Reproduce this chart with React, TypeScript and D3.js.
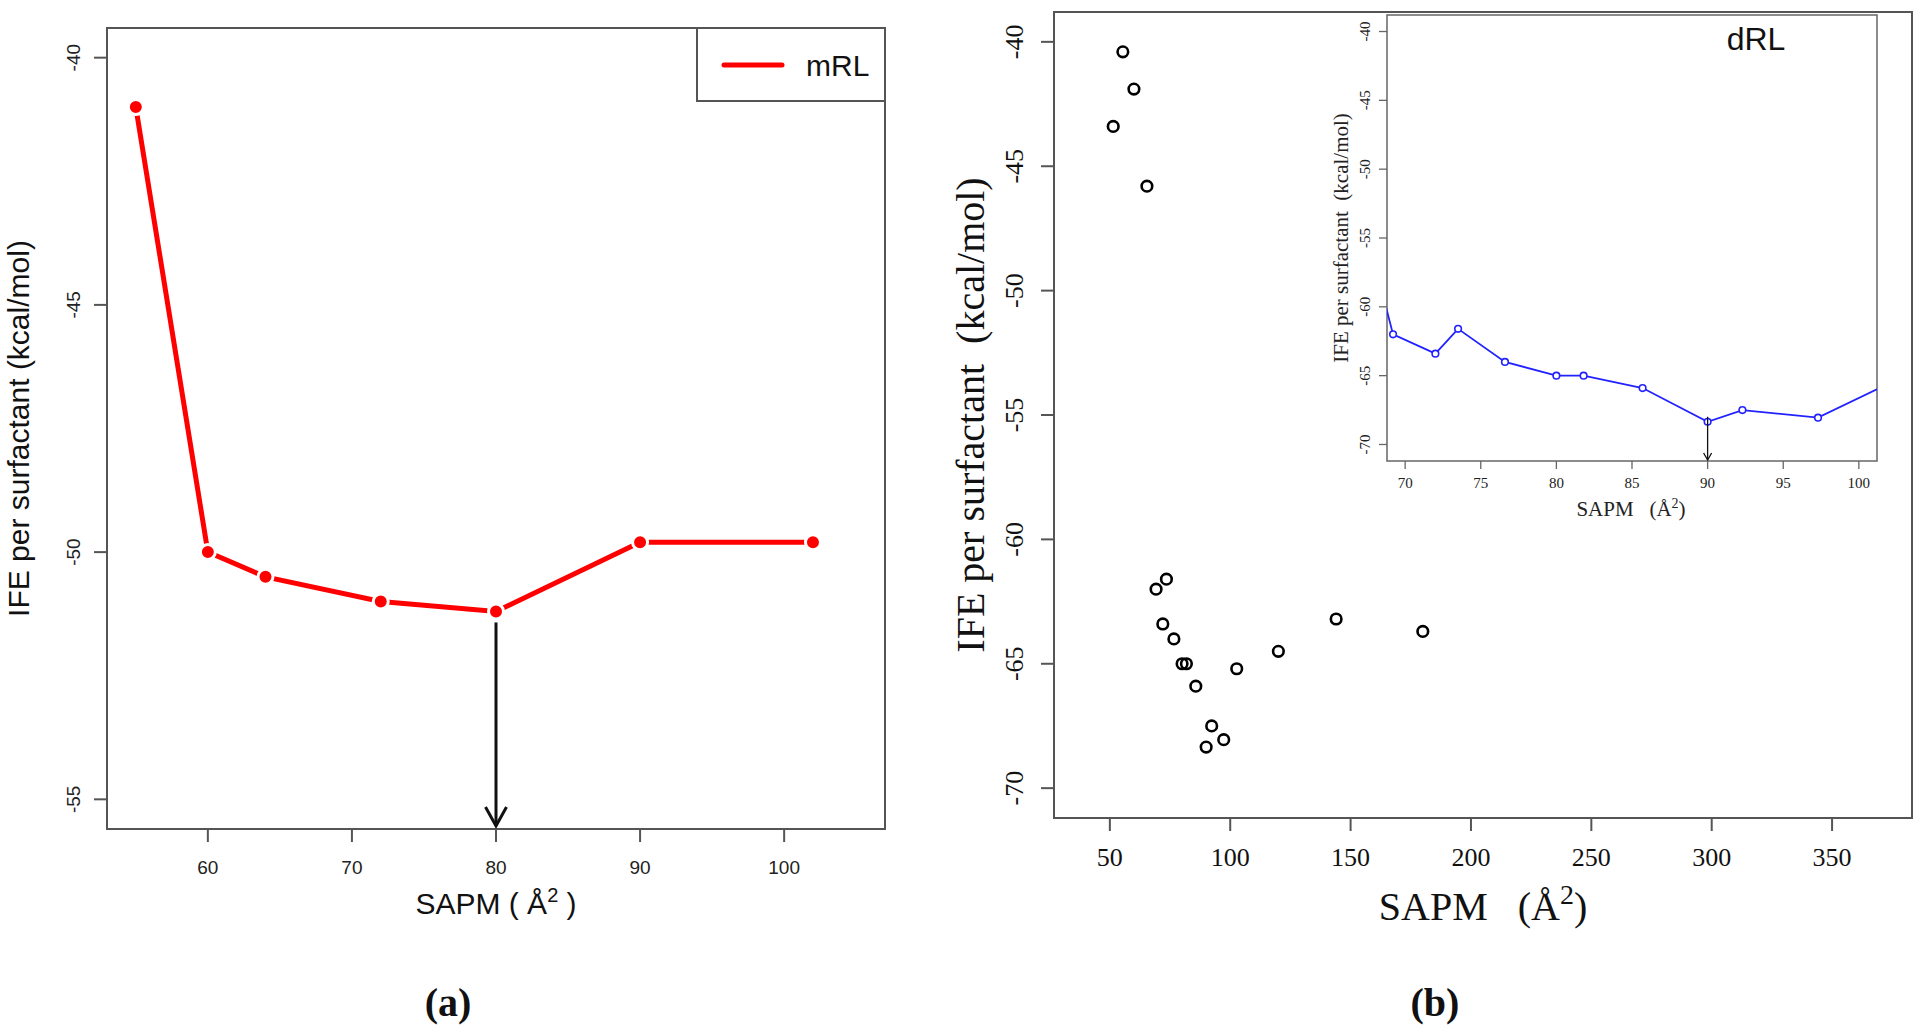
import * as d3 from "d3";

// panel (a): mRL
const mrlSapm = [55, 60, 64, 72, 80, 90, 102];
const mrlIfe = [-41.0, -50.0, -50.5, -51.0, -51.2, -49.8, -49.8];
const aXTicks = [60, 70, 80, 90, 100];
const aYTicks = [-40, -45, -50, -55];
const mrlArrowAt = 80;

// panel (b): dRL
const drlSapm = [51.4, 55.4, 60.0, 65.4, 69.2, 72.0, 73.5, 76.6, 80.0, 81.8, 85.7, 90.0, 92.3, 97.3, 102.7, 120.0, 144.0, 180.0];
const drlIfe = [-43.4, -40.4, -41.9, -45.8, -62.0, -63.4, -61.6, -64.0, -65.0, -65.0, -65.9, -68.35, -67.5, -68.05, -65.2, -64.5, -63.2, -63.7];
const bXTicks = [50, 100, 150, 200, 250, 300, 350];
const bYTicks = [-40, -45, -50, -55, -60, -65, -70];
const insetXTicks = [70, 75, 80, 85, 90, 95, 100];
const insetYTicks = [-40, -45, -50, -55, -60, -65, -70];
const drlArrowAt = 90;

const SANS = "'Liberation Sans', Arial, sans-serif";
const SERIF = "'Liberation Serif', 'Times New Roman', serif";
const FRAME = "#555";

export default function App() {
  const xA = d3.scaleLinear().domain([53, 107]).range([107, 885]);
  const yA = d3.scaleLinear().domain([-39.4, -55.6]).range([28, 829]);

  const xB = d3.scaleLinear().domain([26.8, 383.2]).range([1054, 1912]);
  const yB = d3.scaleLinear().domain([-38.8, -71.2]).range([12, 818]);

  const xI = d3.scaleLinear().domain([68.8, 101.2]).range([1387, 1877]);
  const yI = d3.scaleLinear().domain([-38.8, -71.2]).range([15, 461]);

  const mrl = mrlSapm.map((s, i) => [s, mrlIfe[i]] as [number, number]);
  const drl = drlSapm.map((s, i) => [s, drlIfe[i]] as [number, number]);

  const lineA = d3.line<[number, number]>().x(d => xA(d[0])).y(d => yA(d[1]));
  const lineI = d3.line<[number, number]>().x(d => xI(d[0])).y(d => yI(d[1]));

  const mrlMinY = mrlIfe[mrlSapm.indexOf(mrlArrowAt)];
  const drlMinY = drlIfe[drlSapm.indexOf(drlArrowAt)];

  const [aL, aR] = xA.range();
  const [aT, aB] = yA.range();
  const [bL, bR] = xB.range();
  const [bT, bB] = yB.range();
  const [iL, iR] = xI.range();
  const [iT, iB] = yI.range();

  return (
    <svg width={1920} height={1034} style={{ position: "absolute", left: 0, top: 0, background: "#fff" }}>
      <defs>
        <clipPath id="clipA">
          <rect x={aL} y={aT} width={aR - aL} height={aB - aT} />
        </clipPath>
        <clipPath id="clipI">
          <rect x={iL} y={iT} width={iR - iL} height={iB - iT} />
        </clipPath>
      </defs>

      {/* ---------- panel (a) ---------- */}
      <rect x={aL} y={aT} width={aR - aL} height={aB - aT} fill="none" stroke={FRAME} strokeWidth={2} />
      {aXTicks.map(t => (
        <g key={"ax" + t}>
          <line x1={xA(t)} x2={xA(t)} y1={aB} y2={aB + 13} stroke={FRAME} strokeWidth={2} />
          <text x={xA(t)} y={874} textAnchor="middle" fontFamily={SANS} fontSize={19} fill="#222">{t}</text>
        </g>
      ))}
      {aYTicks.map(t => (
        <g key={"ay" + t}>
          <line x1={aL - 13} x2={aL} y1={yA(t)} y2={yA(t)} stroke={FRAME} strokeWidth={2} />
          <text transform={`translate(80,${yA(t)}) rotate(-90)`} textAnchor="middle" fontFamily={SANS} fontSize={19} fill="#222">{t}</text>
        </g>
      ))}
      <g clipPath="url(#clipA)">
        <path d={lineA(mrl) ?? ""} fill="none" stroke="#ff0000" strokeWidth={5} />
        {mrl.map((d, i) => (
          <circle key={i} cx={xA(d[0])} cy={yA(d[1])} r={7.5} fill="#ff0000" stroke="#fff" strokeWidth={3} />
        ))}
      </g>
      {/* arrow at minimum */}
      <line x1={xA(mrlArrowAt)} x2={xA(mrlArrowAt)} y1={yA(mrlMinY) + 11} y2={aB - 3} stroke="#111" strokeWidth={3} />
      <path
        d={`M${xA(mrlArrowAt) - 10.5},${aB - 22} L${xA(mrlArrowAt)},${aB - 3} L${xA(mrlArrowAt) + 10.5},${aB - 22}`}
        fill="none" stroke="#111" strokeWidth={3}
      />
      {/* legend */}
      <rect x={697} y={aT} width={aR - 697} height={73} fill="#fff" stroke={FRAME} strokeWidth={2} />
      <line x1={724} x2={782} y1={65} y2={65} stroke="#ff0000" strokeWidth={5} strokeLinecap="round" />
      <text x={806} y={76} fontFamily={SANS} fontSize={30} fill="#111">mRL</text>
      {/* axis titles */}
      <text transform={`translate(29,${(aT + aB) / 2}) rotate(-90)`} textAnchor="middle" fontFamily={SANS} fontSize={30} fill="#111">
        IFE per surfactant (kcal/mol)
      </text>
      <text x={(aL + aR) / 2} y={914} textAnchor="middle" fontFamily={SANS} fontSize={30} fill="#111" style={{ whiteSpace: "pre" }}>
        SAPM ( Å<tspan dy={-12} fontSize={20}>2</tspan><tspan dy={12}> )</tspan>
      </text>
      <text x={448} y={1016} textAnchor="middle" fontFamily={SERIF} fontWeight="bold" fontSize={40} fill="#111">(a)</text>

      {/* ---------- panel (b) ---------- */}
      <rect x={bL} y={bT} width={bR - bL} height={bB - bT} fill="none" stroke={FRAME} strokeWidth={2} />
      {bXTicks.map(t => (
        <g key={"bx" + t}>
          <line x1={xB(t)} x2={xB(t)} y1={bB} y2={bB + 13} stroke={FRAME} strokeWidth={2} />
          <text x={xB(t)} y={866} textAnchor="middle" fontFamily={SERIF} fontSize={26} fill="#111">{t}</text>
        </g>
      ))}
      {bYTicks.map(t => (
        <g key={"by" + t}>
          <line x1={bL - 13} x2={bL} y1={yB(t)} y2={yB(t)} stroke={FRAME} strokeWidth={2} />
          <text transform={`translate(1023,${yB(t)}) rotate(-90)`} textAnchor="middle" fontFamily={SERIF} fontSize={26} fill="#111">{t}</text>
        </g>
      ))}
      {drl.map((d, i) => (
        <circle key={i} cx={xB(d[0])} cy={yB(d[1])} r={5.3} fill="none" stroke="#000" strokeWidth={2.6} />
      ))}
      <text transform={`translate(984,${(bT + bB) / 2}) rotate(-90)`} textAnchor="middle" fontFamily={SERIF} fontSize={40} fill="#111" style={{ whiteSpace: "pre" }}>
        IFE per surfactant  (kcal/mol)
      </text>
      <text x={(bL + bR) / 2} y={920} textAnchor="middle" fontFamily={SERIF} fontSize={40} fill="#111" style={{ whiteSpace: "pre" }}>
        SAPM   (Å<tspan dy={-16} fontSize={28}>2</tspan><tspan dy={16}>)</tspan>
      </text>
      <text x={1435} y={1016} textAnchor="middle" fontFamily={SERIF} fontWeight="bold" fontSize={40} fill="#111">(b)</text>

      {/* ---------- inset ---------- */}
      <rect x={iL} y={iT} width={iR - iL} height={iB - iT} fill="#fff" stroke="#666" strokeWidth={1.5} />
      {insetXTicks.map(t => (
        <g key={"ix" + t}>
          <line x1={xI(t)} x2={xI(t)} y1={iB} y2={iB + 8} stroke="#666" strokeWidth={1.3} />
          <text x={xI(t)} y={488} textAnchor="middle" fontFamily={SERIF} fontSize={15} fill="#222">{t}</text>
        </g>
      ))}
      {insetYTicks.map(t => (
        <g key={"iy" + t}>
          <line x1={iL - 8} x2={iL} y1={yI(t)} y2={yI(t)} stroke="#666" strokeWidth={1.3} />
          <text transform={`translate(1370,${yI(t)}) rotate(-90)`} textAnchor="middle" fontFamily={SERIF} fontSize={15} fill="#222">{t}</text>
        </g>
      ))}
      <g clipPath="url(#clipI)">
        <path d={lineI(drl) ?? ""} fill="none" stroke="#2222ff" strokeWidth={1.8} />
        {drl.map((d, i) => (
          <circle key={i} cx={xI(d[0])} cy={yI(d[1])} r={3.3} fill="#fff" stroke="#2222ff" strokeWidth={1.6} />
        ))}
      </g>
      <line x1={xI(drlArrowAt)} x2={xI(drlArrowAt)} y1={yI(drlMinY) - 5} y2={iB - 1} stroke="#111" strokeWidth={1.3} />
      <path
        d={`M${xI(drlArrowAt) - 4},${iB - 8} L${xI(drlArrowAt)},${iB - 1} L${xI(drlArrowAt) + 4},${iB - 8}`}
        fill="none" stroke="#111" strokeWidth={1.3}
      />
      <text x={1756} y={50} textAnchor="middle" fontFamily={SANS} fontSize={32} fill="#111">dRL</text>
      <text transform={`translate(1348,238) rotate(-90)`} textAnchor="middle" fontFamily={SERIF} fontSize={21} fill="#222" style={{ whiteSpace: "pre" }}>
        IFE per surfactant  (kcal/mol)
      </text>
      <text x={1631} y={516} textAnchor="middle" fontFamily={SERIF} fontSize={21} fill="#222" style={{ whiteSpace: "pre" }}>
        SAPM   (Å<tspan dy={-8} fontSize={14}>2</tspan><tspan dy={8}>)</tspan>
      </text>
    </svg>
  );
}
